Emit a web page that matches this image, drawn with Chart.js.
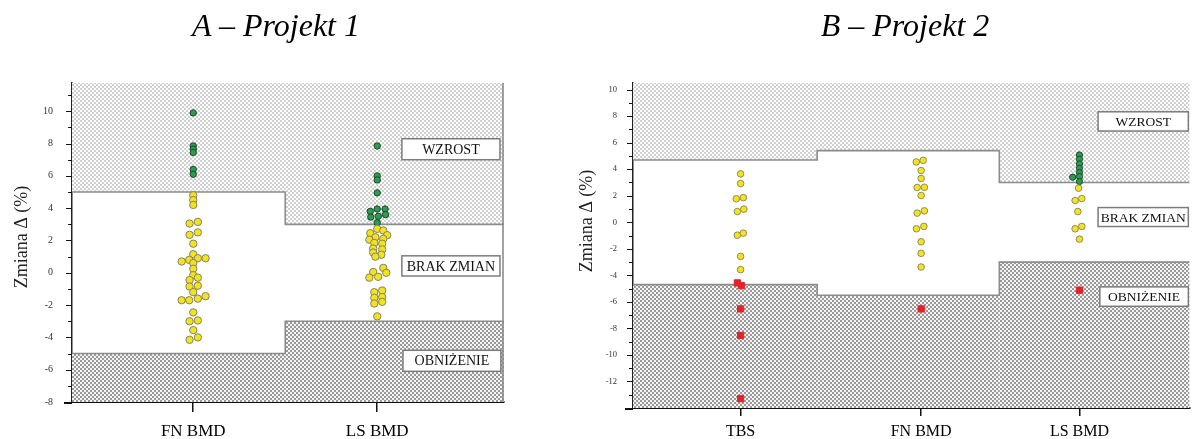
<!DOCTYPE html>
<html>
<head>
<meta charset="utf-8">
<script src="https://cdn.jsdelivr.net/npm/chart.js@4.4.1/dist/chart.umd.min.js"></script>
<style>
  html, body { margin: 0; padding: 0; background: #fff; overflow: hidden; width: 1195px; height: 439px; }
  #wrap { position: relative; width: 1195px; height: 439px; }
  canvas { position: absolute; top: 0; }
  .ttl { position: absolute; top: 9px; font: italic 32px/32px "Liberation Serif", "Times New Roman", serif;
         color: #000; white-space: nowrap; transform: translateX(-50%); z-index: 2; }
</style>
</head>
<body>
<div id="wrap">
  <canvas id="chartA" width="520" height="439" style="left:0;width:520px;height:439px"></canvas>
  <canvas id="chartB" width="635" height="439" style="left:560px;width:635px;height:439px"></canvas>
  <div class="ttl" style="left:276px">A – Projekt 1</div>
  <div class="ttl" style="left:905px">B – Projekt 2</div>
</div>
<script>
// ---------- Project 1 (panel A) ----------
const catsA = ['FN BMD', 'LS BMD'];
const catXA = [1, 2];
const tickLabelsA = [-8, -6, -4, -2, 0, 2, 4, 6, 8, 10];
const upperA = [5, 3];      // change threshold above which a result counts as an increase
const lowerA = [-5, -3];    // ... and below which it counts as a decrease

// FN BMD – increases
const fnA_upY  = [9.9, 7.85, 7.65, 7.45, 6.4, 6.1];
const fnA_upDx = [0, 0, 0, 0, 0, 0];
// FN BMD – no change
const fnA_midY  = [4.8, 4.5, 4.2, 3.05, 3.15, 2.35, 2.5, 1.8, 1.15, 0.7, 0.8, 0.9, 0.9, 0.6, 0.25, -0.15,
                   -0.45, -0.3, -0.85, -0.8, -1.2, -1.7, -1.7, -1.6, -1.45, -2.45, -3.0, -2.95, -3.55, -4.15, -4.0];
const fnA_midDx = [0, 0, 0, -0.02, 0.025, -0.02, 0.025, 0, 0, -0.063, -0.022, 0.025, 0.067, 0, 0, 0,
                   -0.02, 0.025, -0.02, 0.025, 0, -0.063, -0.022, 0.025, 0.067, 0, -0.02, 0.025, 0, -0.02, 0.025];
// LS BMD – increases
const lsA_upY  = [7.85, 6.0, 5.75, 4.95, 3.8, 3.95, 3.95, 3.45, 3.5, 3.6, 3.1];
const lsA_upDx = [0, 0, 0, 0, -0.038, 0, 0.043, -0.035, 0.006, 0.045, 0];
// LS BMD – no change
const lsA_midY  = [2.72, 2.62, 2.45, 2.33, 2.2, 2.05, 2.1, 1.85, 1.8, 1.5, 1.45, 1.25, 1.12, 1.0,
                   0.3, 0.05, 0.0, -0.3, -0.25,
                   -1.1, -1.2, -1.55, -1.5, -1.9, -1.8, -2.7];
const lsA_midDx = [0, 0.033, -0.038, 0.054, -0.01, -0.043, 0.033, -0.016, 0.027, -0.022, 0.027, -0.022, 0.022, -0.01,
                   0.033, -0.022, 0.049, -0.043, 0.005,
                   0.027, -0.016, -0.016, 0.027, -0.016, 0.027, 0];

// ---------- Project 2 (panel B) ----------
const catsB = ['TBS', 'FN BMD', 'LS BMD'];
const catXB = [1, 2, 2.877];
const tickLabelsB = [-12, -10, -8, -6, -4, -2, 0, 2, 4, 6, 8, 10];
const upperB = [4.7, 5.4, 3];
const lowerB = [-4.7, -5.5, -3];

// TBS
const tbsB_midY  = [3.65, 2.92, 1.77, 1.86, 0.81, 0.99, -0.97, -0.82, -2.57, -3.57];
const tbsB_midDx = [0, 0, -0.024, 0.015, -0.018, 0.018, -0.018, 0.015, 0, 0];
const tbsB_dnY   = [-4.57, -4.78, -6.53, -8.53, -13.3];
const tbsB_dnDx  = [-0.018, 0.004, 0, 0, 0];
// FN BMD
const fnB_midY  = [4.55, 4.67, 3.9, 3.3, 2.62, 2.64, 2.02, 0.69, 0.86, -0.49, -0.31, -1.47, -2.34, -3.37];
const fnB_midDx = [-0.027, 0.011, 0, 0, -0.022, 0.018, 0, -0.022, 0.018, -0.026, 0.015, 0, 0, 0];
const fnB_dnY   = [-6.53];
const fnB_dnDx  = [0];
// LS BMD
const lsB_upY   = [5.08, 4.75, 4.4, 4.07, 3.75, 3.45, 3.4, 3.07];
const lsB_upDx  = [0, 0, 0, 0, 0, 0, -0.038, 0];
const lsB_midY  = [2.57, 1.64, 1.79, 0.81, -0.49, -0.31, -1.27];
const lsB_midDx = [-0.005, -0.024, 0.013, -0.009, -0.024, 0.013, 0];
const lsB_dnY   = [-5.12];
const lsB_dnDx  = [0];

// ---------- helpers ----------
function pts(cx, ys, dxs) {
  return ys.map((y, i) => ({ x: cx + (dxs[i] || 0), y }));
}

function makePattern(size, bg, fg, cells) {
  const c = document.createElement('canvas');
  c.width = size; c.height = size;
  const g = c.getContext('2d');
  g.fillStyle = bg; g.fillRect(0, 0, size, size);
  g.fillStyle = fg;
  cells.forEach(([x, y, w, h]) => g.fillRect(x, y, w, h));
  return g.createPattern(c, 'repeat');
}
const patUp = makePattern(4, '#ffffff', '#d0d0d0', [[0, 0, 2, 2], [2, 2, 2, 2]]);
const patDn = makePattern(4, '#f4f4f4', '#9a9a9a', [[0, 0, 2, 2], [2, 2, 2, 2]]);

const SERIF = '"Liberation Serif", "Times New Roman", serif';

// Shaded zones, threshold steps, labelled boxes, axis ticks and y title
const zonesPlugin = {
  id: 'zones',
  beforeDatasetsDraw(chart, args, o) {
    const { ctx, chartArea: a, scales: { x, y } } = chart;
    const segs = o.bounds.slice(0, -1).map((b, i) => ({
      l: x.getPixelForValue(i === 0 ? x.min : b),
      r: x.getPixelForValue(i === o.bounds.length - 2 ? x.max : o.bounds[i + 1]),
      hi: y.getPixelForValue(o.upper[i]),
      lo: y.getPixelForValue(o.lower[i])
    }));
    ctx.save();
    ctx.beginPath();
    ctx.rect(a.left, a.top, a.right - a.left, a.bottom - a.top);
    ctx.clip();
    segs.forEach(s => {
      ctx.fillStyle = patUp;
      ctx.fillRect(s.l, a.top, s.r - s.l, s.hi - a.top);
      ctx.fillStyle = patDn;
      ctx.fillRect(s.l, s.lo, s.r - s.l, a.bottom - s.lo);
    });
    ctx.strokeStyle = '#8c8c8c';
    ctx.lineWidth = 1.6;
    ['hi', 'lo'].forEach(k => {
      ctx.beginPath();
      segs.forEach((s, i) => {
        if (i === 0) ctx.moveTo(s.l, s[k]); else ctx.lineTo(s.l, s[k]);
        ctx.lineTo(s.r, s[k]);
      });
      ctx.stroke();
    });
    if (o.edge) {
      ctx.beginPath();
      ctx.moveTo(a.right - 1, a.top);
      ctx.lineTo(a.right - 1, a.bottom);
      ctx.stroke();
    }
    ctx.restore();
  },
  afterDatasetsDraw(chart, args, o) {
    const { ctx, scales: { x, y } } = chart;
    ctx.save();
    o.boxes.forEach(b => {
      const l = x.getPixelForValue(b.x0), r = x.getPixelForValue(b.x1);
      const t = y.getPixelForValue(b.y0), btm = y.getPixelForValue(b.y1);
      ctx.fillStyle = '#fff';
      ctx.fillRect(l, t, r - l, btm - t);
      ctx.strokeStyle = '#7c7c7c';
      ctx.lineWidth = 1.5;
      ctx.strokeRect(l, t, r - l, btm - t);
      ctx.fillStyle = '#111';
      ctx.font = o.boxFont;
      ctx.textAlign = 'center';
      ctx.textBaseline = 'middle';
      ctx.fillText(b.text, (l + r) / 2, (t + btm) / 2 + 1);
    });
    ctx.restore();
  },
  afterDraw(chart, args, o) {
    const { ctx, chartArea: a, scales: { y } } = chart;
    ctx.save();
    ctx.strokeStyle = '#111';
    ctx.lineWidth = 1;
    y.ticks.forEach(t => {
      const py = Math.round(y.getPixelForValue(t.value)) + 0.5;
      const len = t.value % 2 === 0 ? 6 : 4;
      ctx.beginPath();
      ctx.moveTo(a.left - len, py);
      ctx.lineTo(a.left, py);
      ctx.stroke();
    });
    // bottom axis line runs out to the end of the y tick marks
    ctx.lineWidth = 2;
    ctx.beginPath();
    ctx.moveTo(a.left - 8, a.bottom + 1);
    ctx.lineTo(a.left, a.bottom + 1);
    ctx.stroke();
    ctx.translate(o.titleX, o.titleY);
    ctx.rotate(-Math.PI / 2);
    ctx.fillStyle = '#222';
    ctx.font = o.titleFont;
    ctx.textAlign = 'center';
    ctx.textBaseline = 'middle';
    ctx.fillText('Zmiana \u0394 (%)', 0, 0);
    ctx.restore();
  }
};

function makeDatasets(groups) {
  return groups.map(g => ({
    label: g.label,
    data: g.data,
    pointStyle: g.style,
    pointRadius: g.r,
    pointBorderWidth: g.bw,
    pointBackgroundColor: g.fill,
    pointBorderColor: g.stroke,
    showLine: false
  }));
}

function makeChart(id, cfg) {
  return new Chart(document.getElementById(id), {
    type: 'scatter',
    data: { datasets: makeDatasets(cfg.groups) },
    options: {
      responsive: false,
      animation: false,
      events: [],
      layout: { padding: cfg.padding },
      plugins: {
        legend: { display: false },
        tooltip: { enabled: false },
        zones: cfg.zones
      },
      scales: {
        x: {
          type: 'linear',
          min: cfg.xMin, max: cfg.xMax,
          afterBuildTicks: s => { s.ticks = cfg.catX.map(v => ({ value: v })); },
          afterFit: s => { s.height = cfg.xAxisH; },
          ticks: {
            autoSkip: false, maxRotation: 0,
            padding: cfg.xPad,
            color: '#000',
            font: { family: SERIF, size: cfg.xFont },
            callback: (v, i) => cfg.cats[i]
          },
          grid: { drawOnChartArea: false, drawTicks: true, tickLength: cfg.xTick, color: '#111', lineWidth: 1.5 },
          border: { color: '#111', width: 2 }
        },
        y: {
          type: 'linear',
          min: cfg.yMin, max: cfg.yMax,
          // one tick per whole percent; even ones carry a label
          afterBuildTicks: s => {
            const t = [];
            for (let v = Math.ceil(cfg.yMin); v <= Math.floor(cfg.yMax); v++) t.push({ value: v });
            s.ticks = t;
          },
          afterFit: s => { s.width = cfg.yAxisW; },
          ticks: {
            autoSkip: false,
            padding: cfg.yPad,
            color: '#333',
            font: { family: SERIF, size: cfg.yFont },
            callback: v => (cfg.tickLabels.includes(v) ? String(v) : '')
          },
          grid: { display: false, drawTicks: false },
          border: { color: '#222', width: 1.5 }
        }
      }
    },
    plugins: [zonesPlugin]
  });
}

const yellowA = { fill: '#f2e31c', stroke: '#85826a', r: 3.7, bw: 1, style: 'circle' };
const greenA  = { fill: '#2f9a52', stroke: '#1b4a2a', r: 3.2, bw: 1, style: 'circle' };
const yellowB = { fill: '#f4e41a', stroke: '#8f8a62', r: 3.3, bw: 1, style: 'circle' };
const greenB  = { fill: '#2e9a50', stroke: '#1c4b2b', r: 3.1, bw: 1, style: 'circle' };
const redB    = { fill: '#e4222a', stroke: '#e4222a', r: 4.4, bw: 1, style: 'rect' };

makeChart('chartA', {
  cats: catsA, catX: catXA, tickLabels: tickLabelsA,
  xMin: 0.341, xMax: 2.689, yMin: -8, yMax: 11.75,
  padding: { left: 0, top: 83, right: 16, bottom: 0 },
  xAxisH: 37, xTick: 10, xPad: 9, xFont: 17, yAxisW: 72, yPad: 19, yFont: 10,
  groups: [
    Object.assign({ label: 'Brak zmian', data: pts(catXA[0], fnA_midY, fnA_midDx).concat(pts(catXA[1], lsA_midY, lsA_midDx)) }, yellowA),
    Object.assign({ label: 'Wzrost', data: pts(catXA[0], fnA_upY, fnA_upDx).concat(pts(catXA[1], lsA_upY, lsA_upDx)) }, greenA)
  ],
  zones: {
    bounds: [0, 1.5, 3], upper: upperA, lower: lowerA, edge: true,
    boxFont: '14px ' + SERIF,
    boxes: [
      { text: 'WZROST', x0: 2.134, x1: 2.667, y0: 8.3, y1: 7.0 },
      { text: 'BRAK ZMIAN', x0: 2.134, x1: 2.667, y0: 1.05, y1: -0.2 },
      { text: 'OBNI\u017BENIE', x0: 2.14, x1: 2.672, y0: -4.8, y1: -6.1 }
    ],
    titleX: 22, titleY: 237, titleFont: '18px ' + SERIF
  }
});

makeChart('chartB', {
  cats: catsB, catX: catXB, tickLabels: tickLabelsB,
  xMin: 0.404, xMax: 3.487, yMin: -14, yMax: 10.5,
  padding: { left: 0, top: 83, right: 0, bottom: 0 },
  xAxisH: 31, xTick: 8, xPad: 6, xFont: 16, yAxisW: 73, yPad: 16, yFont: 8.5,
  groups: [
    Object.assign({ label: 'Brak zmian', data: pts(catXB[0], tbsB_midY, tbsB_midDx).concat(pts(catXB[1], fnB_midY, fnB_midDx), pts(catXB[2], lsB_midY, lsB_midDx)) }, yellowB),
    Object.assign({ label: 'Wzrost', data: pts(catXB[2], lsB_upY, lsB_upDx) }, greenB),
    Object.assign({ label: 'Obni\u017Cenie', data: pts(catXB[0], tbsB_dnY, tbsB_dnDx).concat(pts(catXB[1], fnB_dnY, fnB_dnDx), pts(catXB[2], lsB_dnY, lsB_dnDx)) }, redB)
  ],
  zones: {
    bounds: [0, 1.424, 2.433, 4], upper: upperB, lower: lowerB, edge: false,
    boxFont: '13.5px ' + SERIF,
    boxes: [
      { text: 'WZROST', x0: 2.98, x1: 3.48, y0: 8.33, y1: 6.88 },
      { text: 'BRAK ZMIAN', x0: 2.98, x1: 3.48, y0: 1.11, y1: -0.32 },
      { text: 'OBNI\u017BENIE', x0: 2.99, x1: 3.48, y0: -4.87, y1: -6.33 }
    ],
    titleX: 27, titleY: 221, titleFont: '18px ' + SERIF
  }
});
</script>
</body>
</html>
